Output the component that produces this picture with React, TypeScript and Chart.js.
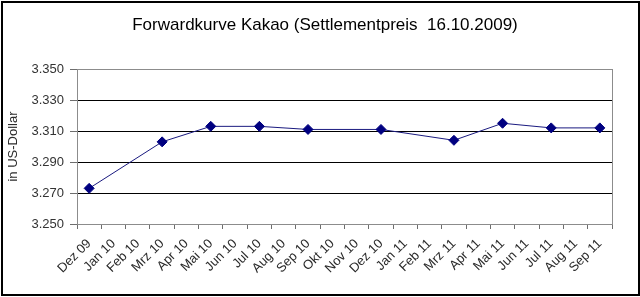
import React, { useEffect, useRef } from "react";
import { Chart, registerables } from "chart.js";

Chart.register(...registerables);

const categories = [
  "Dez 09", "Jan 10", "Feb 10", "Mrz 10", "Apr 10", "Mai 10", "Jun 10", "Jul 10",
  "Aug 10", "Sep 10", "Okt 10", "Nov 10", "Dez 10", "Jan 11", "Feb 11", "Mrz 11",
  "Apr 11", "Mai 11", "Jun 11", "Jul 11", "Aug 11", "Sep 11",
];

const prices: (number | null)[] = [
  3273, null, null, 3303, null, 3313, null, 3313,
  null, 3311, null, null, 3311, null, null, 3304,
  null, 3315, null, 3312, null, 3312,
];

const yMin = 3250;
const yMax = 3350;
const yStep = 20;

const chartTitle = "Forwardkurve Kakao (Settlementpreis  16.10.2009)";
const yTitle = "in US-Dollar";

const FONT = "'Liberation Sans', Arial, sans-serif";

const framePlugin = {
  id: "frame",
  beforeDraw(chart: any) {
    const { ctx, width, height, chartArea } = chart;
    ctx.save();
    ctx.fillStyle = "#ffffff";
    ctx.fillRect(0, 0, width, height);
    ctx.strokeStyle = "#000000";
    ctx.lineWidth = 2;
    ctx.strokeRect(2, 2, width - 3, height - 4);
    ctx.strokeStyle = "#8c8c8c";
    ctx.lineWidth = 1;
    ctx.strokeRect(
      Math.round(chartArea.left) + 0.5,
      Math.round(chartArea.top) + 0.5,
      Math.round(chartArea.right - chartArea.left),
      Math.round(chartArea.bottom - chartArea.top)
    );
    ctx.restore();
  },
  afterDraw(chart: any) {
    const { ctx } = chart;
    ctx.save();
    ctx.fillStyle = "#000000";
    ctx.font = `normal 17px ${FONT}`;
    ctx.textAlign = "center";
    ctx.textBaseline = "middle";
    ctx.fillText(chartTitle, 325, 25);
    ctx.restore();
  },
};

export default function App() {
  const ref = useRef<HTMLCanvasElement | null>(null);

  useEffect(() => {
    document.body.style.margin = "0";
    const canvas = ref.current;
    if (!canvas) return;
    const chart = new Chart(canvas, {
      type: "line",
      data: {
        labels: categories,
        datasets: [
          {
            data: prices,
            borderColor: "#1a1a80",
            backgroundColor: "#000080",
            borderWidth: 1,
            pointStyle: "rectRot",
            pointRadius: 5,
            pointBackgroundColor: "#000080",
            pointBorderColor: "#000080",
            spanGaps: true,
            tension: 0,
          },
        ],
      },
      options: {
        responsive: false,
        animation: false,
        devicePixelRatio: 1,
        layout: { padding: { left: 0, right: 28, top: 69, bottom: 0 } },
        plugins: {
          legend: { display: false },
          tooltip: { enabled: false },
          title: { display: false },
        },
        scales: {
          x: {
            type: "category",
            offset: true,
            grid: {
              offset: true,
              drawOnChartArea: false,
              drawTicks: true,
              tickLength: 5,
              color: "#6e6e6e",
            },
            border: { color: "#8c8c8c" },
            ticks: {
              color: "#2a2a2a",
              font: { family: FONT, size: 13 },
              maxRotation: 45,
              minRotation: 45,
              autoSkip: false,
              padding: 7,
            },
            afterFit: (s: any) => {
              s.height = 73;
            },
          },
          y: {
            min: yMin,
            max: yMax,
            grid: {
              color: (c: any) => (c.tick && c.tick.value === yMax ? "#8c8c8c" : "#000000"),
              tickColor: "#6e6e6e",
              tickLength: 7,
              drawTicks: true,
            },
            border: { color: "#8c8c8c" },
            ticks: {
              stepSize: yStep,
              color: "#333333",
              font: { family: FONT, size: 13 },
              padding: 6,
              callback: (v: any) => (Number(v) / 1000).toFixed(3),
            },
            title: {
              display: true,
              text: yTitle,
              color: "#2a2a2a",
              font: { family: FONT, size: 13 },
              padding: { top: 6, bottom: 0 },
            },
            afterFit: (s: any) => {
              s.width = 77;
            },
          },
        },
      },
      plugins: [framePlugin],
    });
    return () => chart.destroy();
  }, []);

  return (
    <div style={{ width: 640, height: 297 }}>
      <canvas ref={ref} width={640} height={297} style={{ display: "block", width: 640, height: 297 }} />
    </div>
  );
}
